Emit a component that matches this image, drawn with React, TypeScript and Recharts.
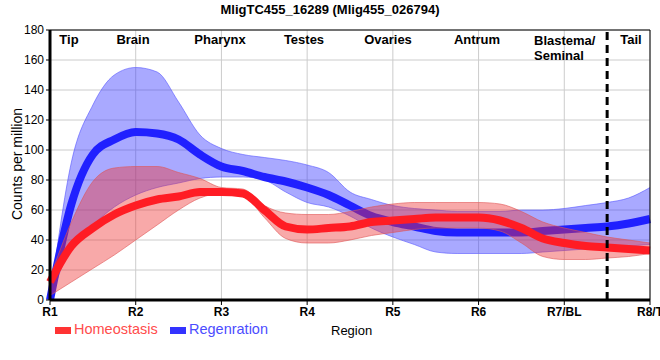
import { Area, CartesianGrid, ComposedChart, Line, ReferenceLine, XAxis, YAxis } from "recharts";

const FONT = "'Liberation Sans', Arial, sans-serif";

const regionTicks = ["R1", "R2", "R3", "R4", "R5", "R6", "R7/BL", "R8/T"];
const yTicks = [0, 20, 40, 60, 80, 100, 120, 140, 160, 180];

// sample positions along the x axis (0 = R1 ... 7 = R8/T)
const positions = [0, 0.25, 0.5, 0.75, 1, 1.25, 1.5, 1.75, 2, 2.25, 2.5, 2.75, 3, 3.25, 3.5, 3.75, 4, 4.25, 4.5, 4.75, 5, 5.25, 5.5, 5.75, 6, 6.25, 6.5, 6.75, 7];

const homeoMean = [12, 36, 48, 57, 63, 67, 69, 72, 72, 71, 60, 49, 47, 48, 49, 52, 53, 54, 55, 55, 55, 53, 48, 41, 38, 36, 35, 34, 33];
const homeoHigh = [15, 52, 79, 88, 89, 89, 85, 81, 75, 74, 63, 58, 57, 57, 59, 62, 64, 65, 65, 65, 65, 64, 59, 52, 48, 45, 42, 40, 38];
const homeoLow = [3, 12, 21, 30, 40, 50, 60, 68, 71, 70, 55, 41, 38, 38, 40, 43, 45, 47, 48, 48, 48, 46, 38, 29, 27, 27, 28, 29, 31];

const regenMean = [0, 64, 97, 107, 112, 111, 107, 97, 89, 86, 82, 79, 75, 70, 63, 56, 52, 49, 46, 45, 45, 45, 45, 46, 47, 48, 49, 51, 54];
const regenHigh = [0, 92, 130, 150, 155, 152, 132, 110, 101, 97, 95, 93, 90, 85, 72, 67, 63, 61, 60, 59, 59, 59, 60, 60, 61, 63, 65, 68, 75];
const regenLow = [0, 36, 50, 62, 70, 75, 78, 81, 82, 82, 80, 72, 65, 62, 56, 48, 42, 37, 32, 31, 31, 31, 31, 32, 33, 34, 35, 36, 37];

const regionLabels = [
  { name: "Tip", left: 69 },
  { name: "Brain", left: 133 },
  { name: "Pharynx", left: 220 },
  { name: "Testes", left: 304 },
  { name: "Ovaries", left: 388 },
  { name: "Antrum", left: 477 },
  { name: "Tail", left: 631 }
];

const data = positions.map((x, i) => ({
  x,
  homeo: homeoMean[i],
  homeoBand: [homeoLow[i], homeoHigh[i]],
  regen: regenMean[i],
  regenBand: [regenLow[i], regenHigh[i]]
}));

const labelStyle = {
  position: "absolute" as const,
  fontFamily: FONT,
  fontWeight: 700,
  fontSize: 13,
  color: "#000",
  lineHeight: "14px",
  whiteSpace: "nowrap" as const
};

export default function App() {
  return (
    <div style={{ position: "absolute", left: 0, top: 0, width: 660, height: 360, background: "#fff" }}>
      <ComposedChart width={660} height={360} data={data} margin={{ top: 30, right: 10, bottom: 30, left: 0 }}>
        <CartesianGrid stroke="#cccccc" strokeWidth={1} />
        <XAxis
          dataKey="x"
          type="number"
          domain={[0, 7]}
          ticks={[0, 1, 2, 3, 4, 5, 6, 7]}
          tickFormatter={(v: number) => regionTicks[v]}
          height={30}
          axisLine={{ stroke: "#000", strokeWidth: 3 }}
          tickLine={{ stroke: "#000", strokeWidth: 1 }}
          tickSize={5}
          tick={{ fontSize: 12, fontWeight: 700, fill: "#000", fontFamily: FONT }}
          interval={0}
        />
        <YAxis
          type="number"
          domain={[0, 180]}
          ticks={yTicks}
          width={50}
          axisLine={{ stroke: "#000", strokeWidth: 3 }}
          tickLine={{ stroke: "#000", strokeWidth: 1 }}
          tickSize={4}
          tickMargin={2}
          tick={{ fontSize: 12, fill: "#000", fontFamily: FONT }}
          interval={0}
        />
        <ReferenceLine y={180} stroke="#000" strokeWidth={1} />
        <ReferenceLine x={7} stroke="#000" strokeWidth={1} />
        <Area
          dataKey="regenBand"
          type="monotone"
          fill="#3333ff"
          fillOpacity={0.42}
          stroke="#5555ff"
          strokeOpacity={0.6}
          strokeWidth={1}
          isAnimationActive={false}
          zIndex={100}
        />
        <Line
          dataKey="regen"
          type="monotone"
          stroke="#2020ff"
          strokeWidth={8}
          dot={false}
          isAnimationActive={false}
          zIndex={110}
        />
        <Area
          dataKey="homeoBand"
          type="monotone"
          fill="#ee3333"
          fillOpacity={0.42}
          stroke="#e05555"
          strokeOpacity={0.6}
          strokeWidth={1}
          isAnimationActive={false}
          zIndex={120}
        />
        <Line
          dataKey="homeo"
          type="monotone"
          stroke="#ff1c24"
          strokeWidth={8}
          dot={false}
          isAnimationActive={false}
          zIndex={130}
        />
        <ReferenceLine x={6.5} stroke="#000" strokeWidth={3} strokeDasharray="8 5" zIndex={140} />
      </ComposedChart>

      <div style={{ ...labelStyle, left: 0, width: 660, top: 3, textAlign: "center" }}>
        MligTC455_16289 (Mlig455_026794)
      </div>

      {regionLabels.map((r) => (
        <div key={r.name} style={{ ...labelStyle, left: r.left - 50, width: 100, top: 33, textAlign: "center" }}>
          {r.name}
        </div>
      ))}
      <div style={{ ...labelStyle, left: 534, top: 33, lineHeight: "15px" }}>
        Blastema/
        <br />
        Seminal
      </div>

      <div
        style={{
          position: "absolute",
          left: 17,
          top: 164,
          transform: "translate(-50%, -50%) rotate(-90deg)",
          fontFamily: FONT,
          fontSize: 14,
          whiteSpace: "nowrap"
        }}
      >
        Counts per million
      </div>

      <div style={{ position: "absolute", left: 55, top: 327, width: 16, height: 7, background: "#ff3333" }} />
      <div style={{ position: "absolute", left: 74, top: 321, fontFamily: FONT, fontSize: 14.5, color: "#ff4c4c", lineHeight: "17px" }}>
        Homeostasis
      </div>
      <div style={{ position: "absolute", left: 170, top: 327, width: 16, height: 7, background: "#3333ff" }} />
      <div style={{ position: "absolute", left: 189, top: 321, fontFamily: FONT, fontSize: 14.5, color: "#4c4cff", lineHeight: "17px" }}>
        Regenration
      </div>
      <div style={{ position: "absolute", left: 331, top: 323, fontFamily: FONT, fontSize: 13, color: "#000", lineHeight: "16px" }}>
        Region
      </div>
    </div>
  );
}
